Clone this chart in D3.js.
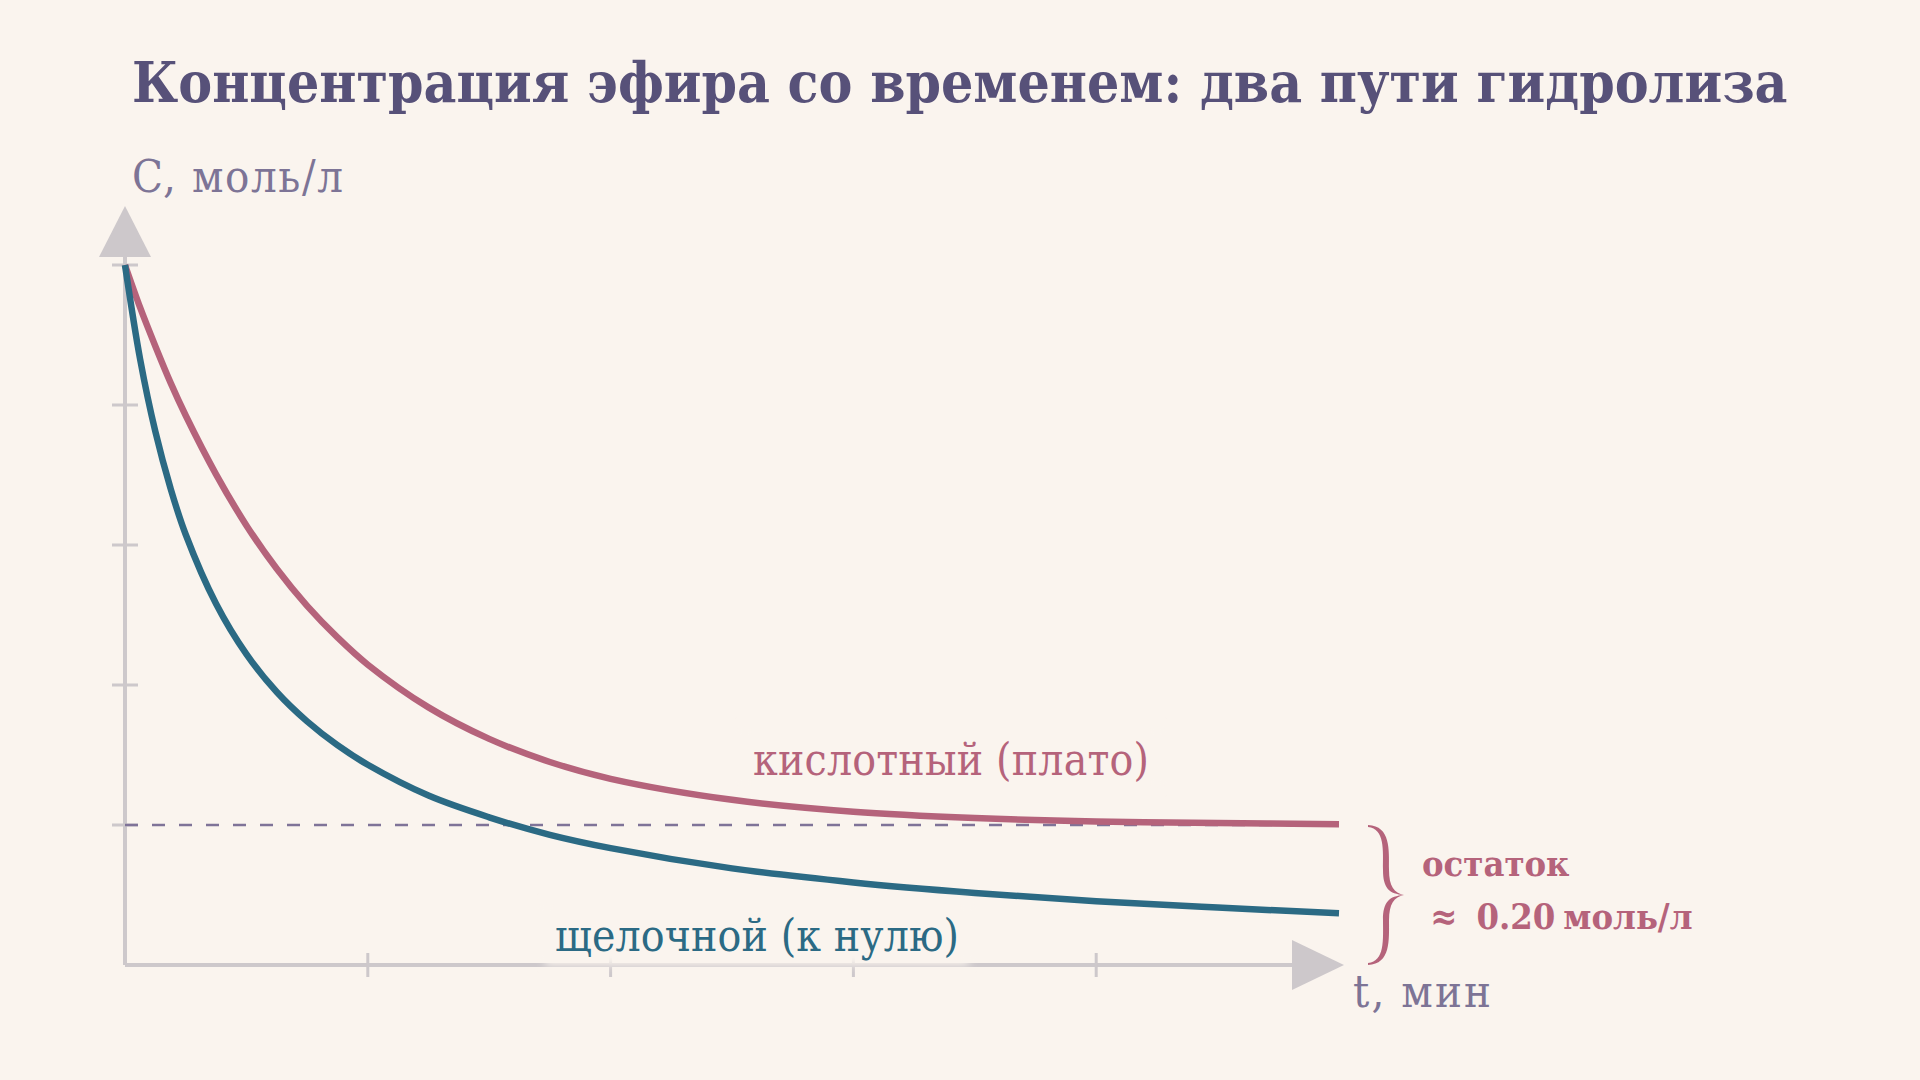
<!DOCTYPE html>
<html>
<head>
<meta charset="utf-8">
<script src="https://cdn.jsdelivr.net/npm/d3@7"></script>
<style>
  html, body { margin: 0; padding: 0; background: #faf4ee; }
  svg { display: block; }
  text { font-family: 'DejaVu Serif Condensed', 'DejaVu Serif', serif; font-stretch: condensed; }
</style>
</head>
<body>
<div id="chart"></div>
<script>
// time, min
const timeMin = [0, 0.625, 1.25, 1.875, 2.5, 3.75, 5, 6.25, 7.5, 8.75, 10, 12.5, 15, 17.5, 20, 25, 30, 35, 40, 45, 50];
// кислотный гидролиз — выходит на плато
const acidConc = [1.0, 0.939, 0.884, 0.832, 0.785, 0.701, 0.628, 0.566, 0.513, 0.468, 0.429, 0.368, 0.323, 0.290, 0.266, 0.236, 0.219, 0.210, 0.205, 0.203, 0.201];
// щелочной гидролиз — к нулю
const baseConc = [1.0, 0.865, 0.762, 0.681, 0.615, 0.516, 0.444, 0.390, 0.348, 0.314, 0.286, 0.242, 0.211, 0.186, 0.167, 0.138, 0.118, 0.103, 0.091, 0.082, 0.074];
const xTicks = [10, 20, 30, 40];
const yTicks = [0.2, 0.4, 0.6, 0.8, 1.0];
const plateau = 0.2;

const width = 1920, height = 1080;
const bg = '#faf4ee';
const acidColor = '#b5637b';
const baseColor = '#2b6a84';
const axisColor = '#cdc8cb';
const labelColor = '#7d7496';

const svg = d3.select('#chart').append('svg')
    .attr('width', width)
    .attr('height', height);

svg.append('rect').attr('width', width).attr('height', height).attr('fill', bg);

svg.append('defs').append('filter').attr('id', 'halo')
    .attr('x', '-20%').attr('y', '-50%').attr('width', '140%').attr('height', '200%')
    .append('feGaussianBlur').attr('stdDeviation', 4);

const x = d3.scaleLinear().domain([0, 50]).range([125, 1339]);
const y = d3.scaleLinear().domain([0, 1]).range([965, 265]);

// title
svg.append('text')
    .attr('x', 132).attr('y', 102)
    .attr('font-size', 56.5)
    .attr('font-weight', 'bold')
    .attr('fill', '#575179')
    .text('Концентрация эфира со временем: два пути гидролиза');

// axes
const axes = svg.append('g');
axes.append('line')
    .attr('x1', x(0)).attr('x2', x(0))
    .attr('y1', y(0)).attr('y2', 257)
    .attr('stroke', axisColor).attr('stroke-width', 4);
axes.append('line')
    .attr('x1', x(0)).attr('x2', 1294)
    .attr('y1', y(0)).attr('y2', y(0))
    .attr('stroke', axisColor).attr('stroke-width', 4);
axes.append('path')
    .attr('d', `M${x(0)},206 L${x(0) + 26},257 L${x(0) - 26},257 Z`)
    .attr('fill', axisColor);
axes.append('path')
    .attr('d', `M1344,${y(0)} L1292,${y(0) - 25} L1292,${y(0) + 25} Z`)
    .attr('fill', axisColor);

axes.selectAll('.ytick').data(yTicks).enter().append('line')
    .attr('class', 'ytick')
    .attr('x1', x(0) - 13).attr('x2', x(0) + 13)
    .attr('y1', d => y(d)).attr('y2', d => y(d))
    .attr('stroke', axisColor).attr('stroke-width', 3);
axes.selectAll('.xtick').data(xTicks).enter().append('line')
    .attr('class', 'xtick')
    .attr('x1', d => x(d)).attr('x2', d => x(d))
    .attr('y1', y(0) - 12).attr('y2', y(0) + 12)
    .attr('stroke', axisColor).attr('stroke-width', 3);

// axis labels
svg.append('text')
    .attr('x', 132).attr('y', 192)
    .attr('font-size', 45)
    .attr('textLength', 211).attr('lengthAdjust', 'spacing')
    .attr('fill', labelColor)
    .text('C, моль/л');
svg.append('text')
    .attr('x', 1353).attr('y', 1007)
    .attr('font-size', 45)
    .attr('textLength', 138).attr('lengthAdjust', 'spacing')
    .attr('fill', labelColor)
    .text('t, мин');

// plateau reference
svg.append('line')
    .attr('x1', x(0)).attr('x2', x(50))
    .attr('y1', y(plateau)).attr('y2', y(plateau))
    .attr('stroke', '#7f7398').attr('stroke-width', 2.5)
    .attr('stroke-dasharray', '13 14');

// curves
const line = (vals) => d3.line()
    .x((d, i) => x(timeMin[i]))
    .y(d => y(d))
    .curve(d3.curveCatmullRom.alpha(0.5))(vals);

svg.append('path')
    .attr('d', line(acidConc))
    .attr('fill', 'none').attr('stroke', acidColor).attr('stroke-width', 6.5);
svg.append('path')
    .attr('d', line(baseConc))
    .attr('fill', 'none').attr('stroke', baseColor).attr('stroke-width', 6.5);

// curve labels with halo
function haloLabel(tx, ty, w, txt, color) {
    svg.append('rect')
        .attr('x', tx - 10).attr('y', ty - 50)
        .attr('width', w + 20).attr('height', 64)
        .attr('fill', bg).attr('filter', 'url(#halo)');
    svg.append('text')
        .attr('x', tx).attr('y', ty)
        .attr('font-size', 44)
        .attr('textLength', w).attr('lengthAdjust', 'spacing')
        .attr('fill', color)
        .text(txt);
}
haloLabel(753, 775, 396, 'кислотный (плато)', acidColor);
haloLabel(555, 951, 404, 'щелочной (к нулю)', baseColor);

// brace (tapered) + residual note
svg.append('path')
    .attr('d', 'M1368,825 C1391,826 1389,850 1389,870 C1389,886 1394,893 1404,895 ' +
               'C1389,894 1383,888 1383,870 C1383,850 1385,829 1368,827 Z ' +
               'M1368,965 C1391,964 1389,940 1389,920 C1389,904 1394,897 1404,895 ' +
               'C1389,896 1383,902 1383,920 C1383,940 1385,961 1368,963 Z')
    .attr('fill', acidColor);

svg.append('text')
    .attr('x', 1422).attr('y', 876)
    .attr('font-size', 36).attr('font-weight', 'bold')
    .attr('fill', acidColor)
    .text('остаток');
const note = svg.append('text')
    .attr('x', 1430).attr('y', 929)
    .attr('font-size', 36).attr('font-weight', 'bold')
    .attr('fill', acidColor);
note.append('tspan').text('≈ ');
note.append('tspan').attr('dx', 8).text('0.20');
note.append('tspan').attr('dx', 8).text('моль/л');
</script>
</body>
</html>
